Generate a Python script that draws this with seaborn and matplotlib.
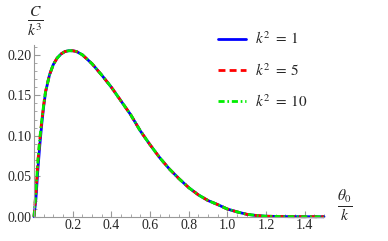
import numpy as np
import pandas as pd
import matplotlib
matplotlib.use('Agg')
import matplotlib.pyplot as plt
import seaborn as sns
from matplotlib.ticker import MultipleLocator

# values (theta0/k vs C/k^3)
theta = [0.00, 0.01, 0.02, 0.03, 0.04, 0.05, 0.06, 0.08, 0.10, 0.12, 0.14, 0.16,
         0.18, 0.20, 0.22, 0.25, 0.30, 0.35, 0.40, 0.45, 0.50, 0.55, 0.60, 0.65,
         0.70, 0.75, 0.80, 0.85, 0.90, 0.95, 1.00, 1.05, 1.10, 1.15, 1.20, 1.30,
         1.40, 1.50]
c_k1 = [0.000, 0.022, 0.058, 0.088, 0.114, 0.136, 0.154, 0.175, 0.188, 0.196, 0.201, 0.204,
        0.205, 0.205, 0.204, 0.200, 0.189, 0.175, 0.160, 0.143, 0.126, 0.106, 0.089, 0.073,
        0.059, 0.047, 0.036, 0.027, 0.020, 0.015, 0.0095, 0.006, 0.003, 0.0015, 0.0006, 0.0001,
        0.0, 0.0]
c_k5 = [0.000, 0.030, 0.068, 0.095, 0.118, 0.138, 0.155, 0.175, 0.188, 0.196, 0.201, 0.204,
        0.205, 0.205, 0.204, 0.200, 0.189, 0.175, 0.160, 0.143, 0.126, 0.106, 0.089, 0.073,
        0.059, 0.047, 0.036, 0.027, 0.020, 0.015, 0.0095, 0.006, 0.003, 0.0015, 0.0006, 0.0001,
        0.0, 0.0]
c_k10 = [0.000, 0.031, 0.069, 0.096, 0.119, 0.138, 0.155, 0.175, 0.188, 0.196, 0.201, 0.204,
         0.205, 0.205, 0.204, 0.200, 0.189, 0.175, 0.160, 0.143, 0.126, 0.106, 0.089, 0.073,
         0.059, 0.047, 0.036, 0.027, 0.020, 0.015, 0.0095, 0.006, 0.003, 0.0015, 0.0006, 0.0001,
         0.0, 0.0]
labels = [r'$k^2\;=\;1$', r'$k^2\;=\;5$', r'$k^2\;=\;10$']
series = [c_k1, c_k5, c_k10]

sns.set_style('white')
plt.rcParams['font.family'] = ['Liberation Serif', 'DejaVu Serif']
plt.rcParams['mathtext.fontset'] = 'stix'

fig = plt.figure(figsize=(3.88, 2.41), dpi=100)
ax = fig.add_axes([0.0876, 0.1008, 0.7474, 0.7122])

colors = ['#0000ff', '#ff0000', '#00ee00']
styles = ['-', (0, (2.5, 1.5)), (0, (2.2, 1, 0.6, 1))]
for vals, lab, col, ls in zip(series, labels, colors, styles):
    sns.lineplot(x=theta, y=vals, ax=ax, color=col, linestyle=ls, linewidth=2.0,
                 label=lab, clip_on=False)

ax.set_xlim(0, 1.5)
ax.set_ylim(0, 0.212)
ax.xaxis.set_minor_locator(MultipleLocator(0.05))
ax.yaxis.set_minor_locator(MultipleLocator(0.01))
ax.set_xticks([0.2, 0.4, 0.6, 0.8, 1.0, 1.2, 1.4])
ax.set_xticklabels(['0.2', '0.4', '0.6', '0.8', '1.0', '1.2', '1.4'])
ax.set_yticks([0.0, 0.05, 0.10, 0.15, 0.20])
ax.set_yticklabels(['0.00', '0.05', '0.10', '0.15', '0.20'])
ax.tick_params(which='major', direction='in', length=4, width=0.8, color='#999999',
               labelsize=10, pad=2)
ax.tick_params(which='minor', direction='in', length=2, width=0.6, color='#999999')
ax.tick_params(axis='x', which='both', bottom=True)
ax.tick_params(axis='y', which='both', left=True)

for s in ['top', 'right']:
    ax.spines[s].set_visible(False)
for s in ['left', 'bottom']:
    ax.spines[s].set_color('#999999')
    ax.spines[s].set_linewidth(0.8)

ax.set_xlabel('')
ax.set_ylabel('')
fig.text(0.092, 0.912, r'$\frac{C}{k^3}$', fontsize=16, ha='center', va='center')
fig.text(0.889, 0.148, r'$\frac{\theta_0}{k}$', fontsize=16, ha='center', va='center')

ax.legend(loc='upper left', bbox_to_anchor=(0.562, 0.872), bbox_transform=fig.transFigure,
          frameon=False, fontsize=11, borderpad=0, borderaxespad=0,
          handlelength=1.8, labelspacing=0.95, handletextpad=0.65)

fig.savefig('out.png', dpi=100)
